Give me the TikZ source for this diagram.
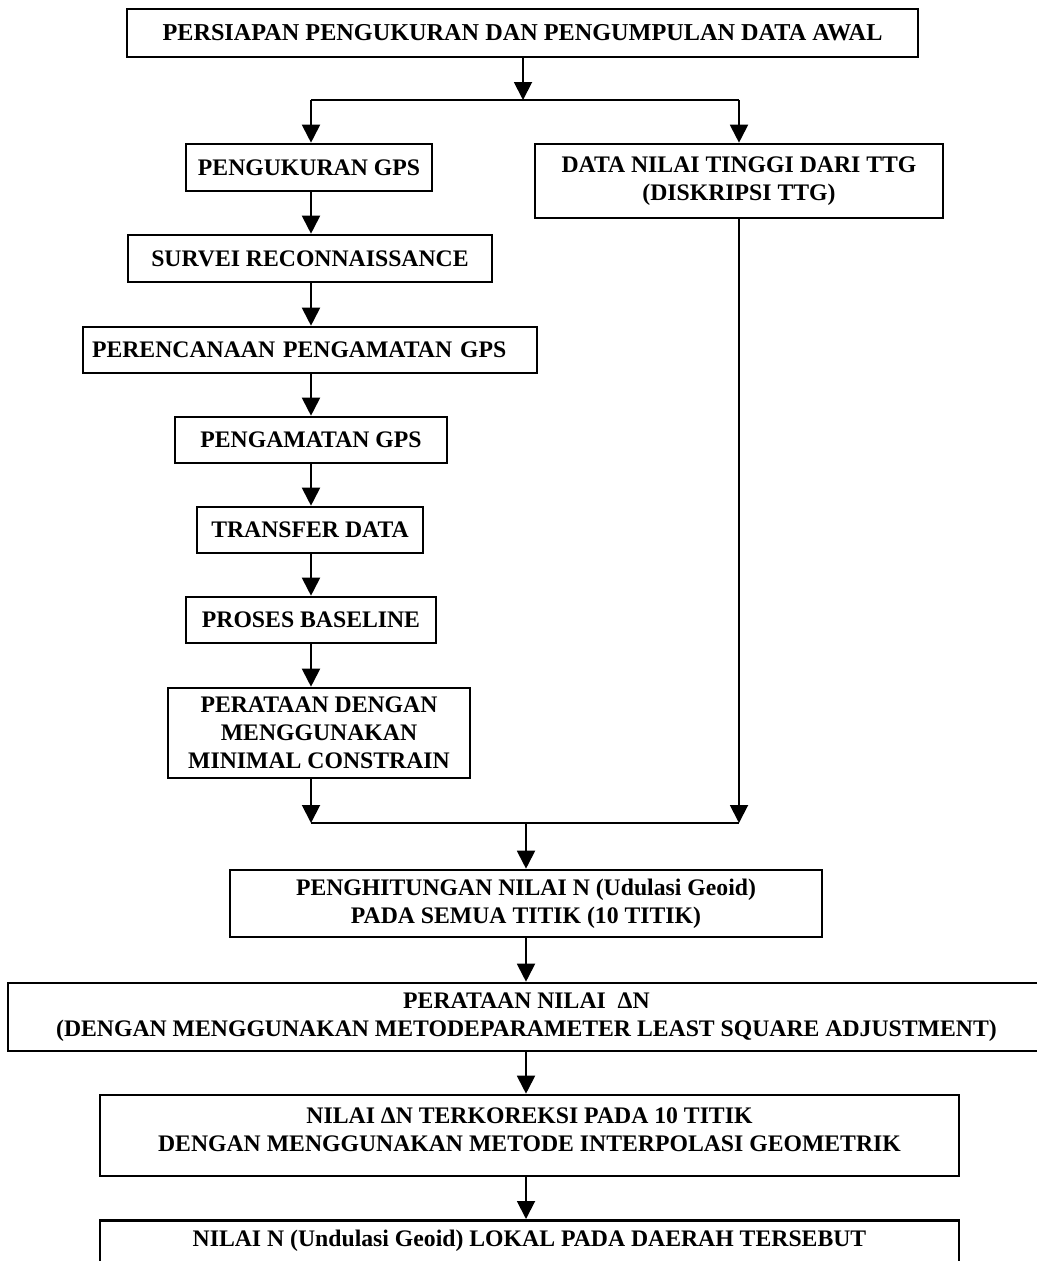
\documentclass[tikz,border=0pt]{standalone}
\usepackage{fontspec}
\setmainfont{Liberation Serif}
\usetikzlibrary{arrows.meta}

\begin{document}
\begin{tikzpicture}[x=0.02cm,y=-0.02cm,
  every node/.style={font=\fontsize{13.5}{15.8}\selectfont\bfseries},
  box/.style={draw,line width=1.5pt,align=center,inner sep=0pt},
  link/.style={line width=1.1pt},
  arr/.style={link,-{Triangle[length=0.36cm,width=0.36cm]}}]
\useasboundingbox (0,0) rectangle (1037,1261);
\node[box,minimum width=15.82cm,minimum height=0.96cm,font=\fontsize{13.8}{16}\selectfont\bfseries] (top) at (522.5,33)
  {PERSIAPAN PENGUKURAN DAN PENGUMPULAN DATA AWAL};
\node[box,minimum width=4.92cm,minimum height=0.94cm] (gps) at (309,167.5) {PENGUKURAN GPS};
\node[box,minimum width=8.16cm,minimum height=1.48cm] (ttg) at (739,181)
  {DATA NILAI TINGGI DARI TTG\\(DISKRIPSI TTG)};
\node[box,minimum width=7.28cm,minimum height=0.94cm] (srv) at (310,258.5) {SURVEI RECONNAISSANCE};
\node[box,text width=8.72cm,align=left,inner xsep=0.18cm,minimum height=0.92cm] (ren) at (310,350)
  {PERENCANAAN PENGAMATAN GPS};
\node[box,minimum width=5.44cm,minimum height=0.92cm] (amt) at (311,440) {PENGAMATAN GPS};
\node[box,minimum width=4.52cm,minimum height=0.92cm] (trf) at (310,530) {TRANSFER DATA};
\node[box,minimum width=5cm,minimum height=0.92cm] (bsl) at (311,620) {PROSES BASELINE};
\node[box,minimum width=6.04cm,minimum height=1.8cm] (rat) at (319,733)
  {PERATAAN DENGAN\\MENGGUNAKAN\\MINIMAL CONSTRAIN};
\node[box,minimum width=11.84cm,minimum height=1.34cm] (hit) at (526,903.5)
  {PENGHITUNGAN NILAI N (Udulasi Geoid)\\PADA SEMUA TITIK (10 TITIK)};
\node[box,minimum width=20.74cm,minimum height=1.36cm] (adj) at (526.5,1017)
  {PERATAAN NILAI\enspace ΔN\\(DENGAN MENGGUNAKAN METODEPARAMETER LEAST SQUARE ADJUSTMENT)};
\node[box,minimum width=17.18cm,minimum height=1.62cm,text depth=0.24cm] (kor) at (529.5,1135.5)
  {NILAI ΔN TERKOREKSI PADA 10 TITIK\\DENGAN MENGGUNAKAN METODE INTERPOLASI GEOMETRIK};
\node[box,anchor=north,minimum width=17.18cm,inner ysep=0.19cm,text depth=1.5cm] (lok) at (529.5,1219)
  {NILAI N (Undulasi Geoid) LOKAL PADA DAERAH TERSEBUT};
\coordinate (br) at (523,100);
\coordinate (lft) at (311,100);
\coordinate (rgt) at (739,100);
\coordinate (mrg) at (526,823);
\draw[arr] (top.south -| br) -- (br);
\draw[link] (lft) -- (rgt);
\draw[arr] (lft) -- (lft |- gps.north);
\draw[arr] (rgt) -- (rgt |- ttg.north);
\foreach \a/\b in {gps/srv,srv/ren,ren/amt,amt/trf,trf/bsl,bsl/rat}
  \draw[arr] (\a.south -| lft) -- (\b.north -| lft);
\draw[arr] (rat.south -| lft) -- (lft |- mrg);
\draw[arr] (ttg.south -| rgt) -- (rgt |- mrg);
\draw[link] (lft |- mrg) -- (rgt |- mrg);
\draw[arr] (mrg) -- (mrg |- hit.north);
\draw[arr] (hit.south -| mrg) -- (adj.north -| mrg);
\draw[arr] (adj.south -| mrg) -- (kor.north -| mrg);
\draw[arr] (kor.south -| mrg) -- (lok.north -| mrg);
\end{tikzpicture}
\end{document}
